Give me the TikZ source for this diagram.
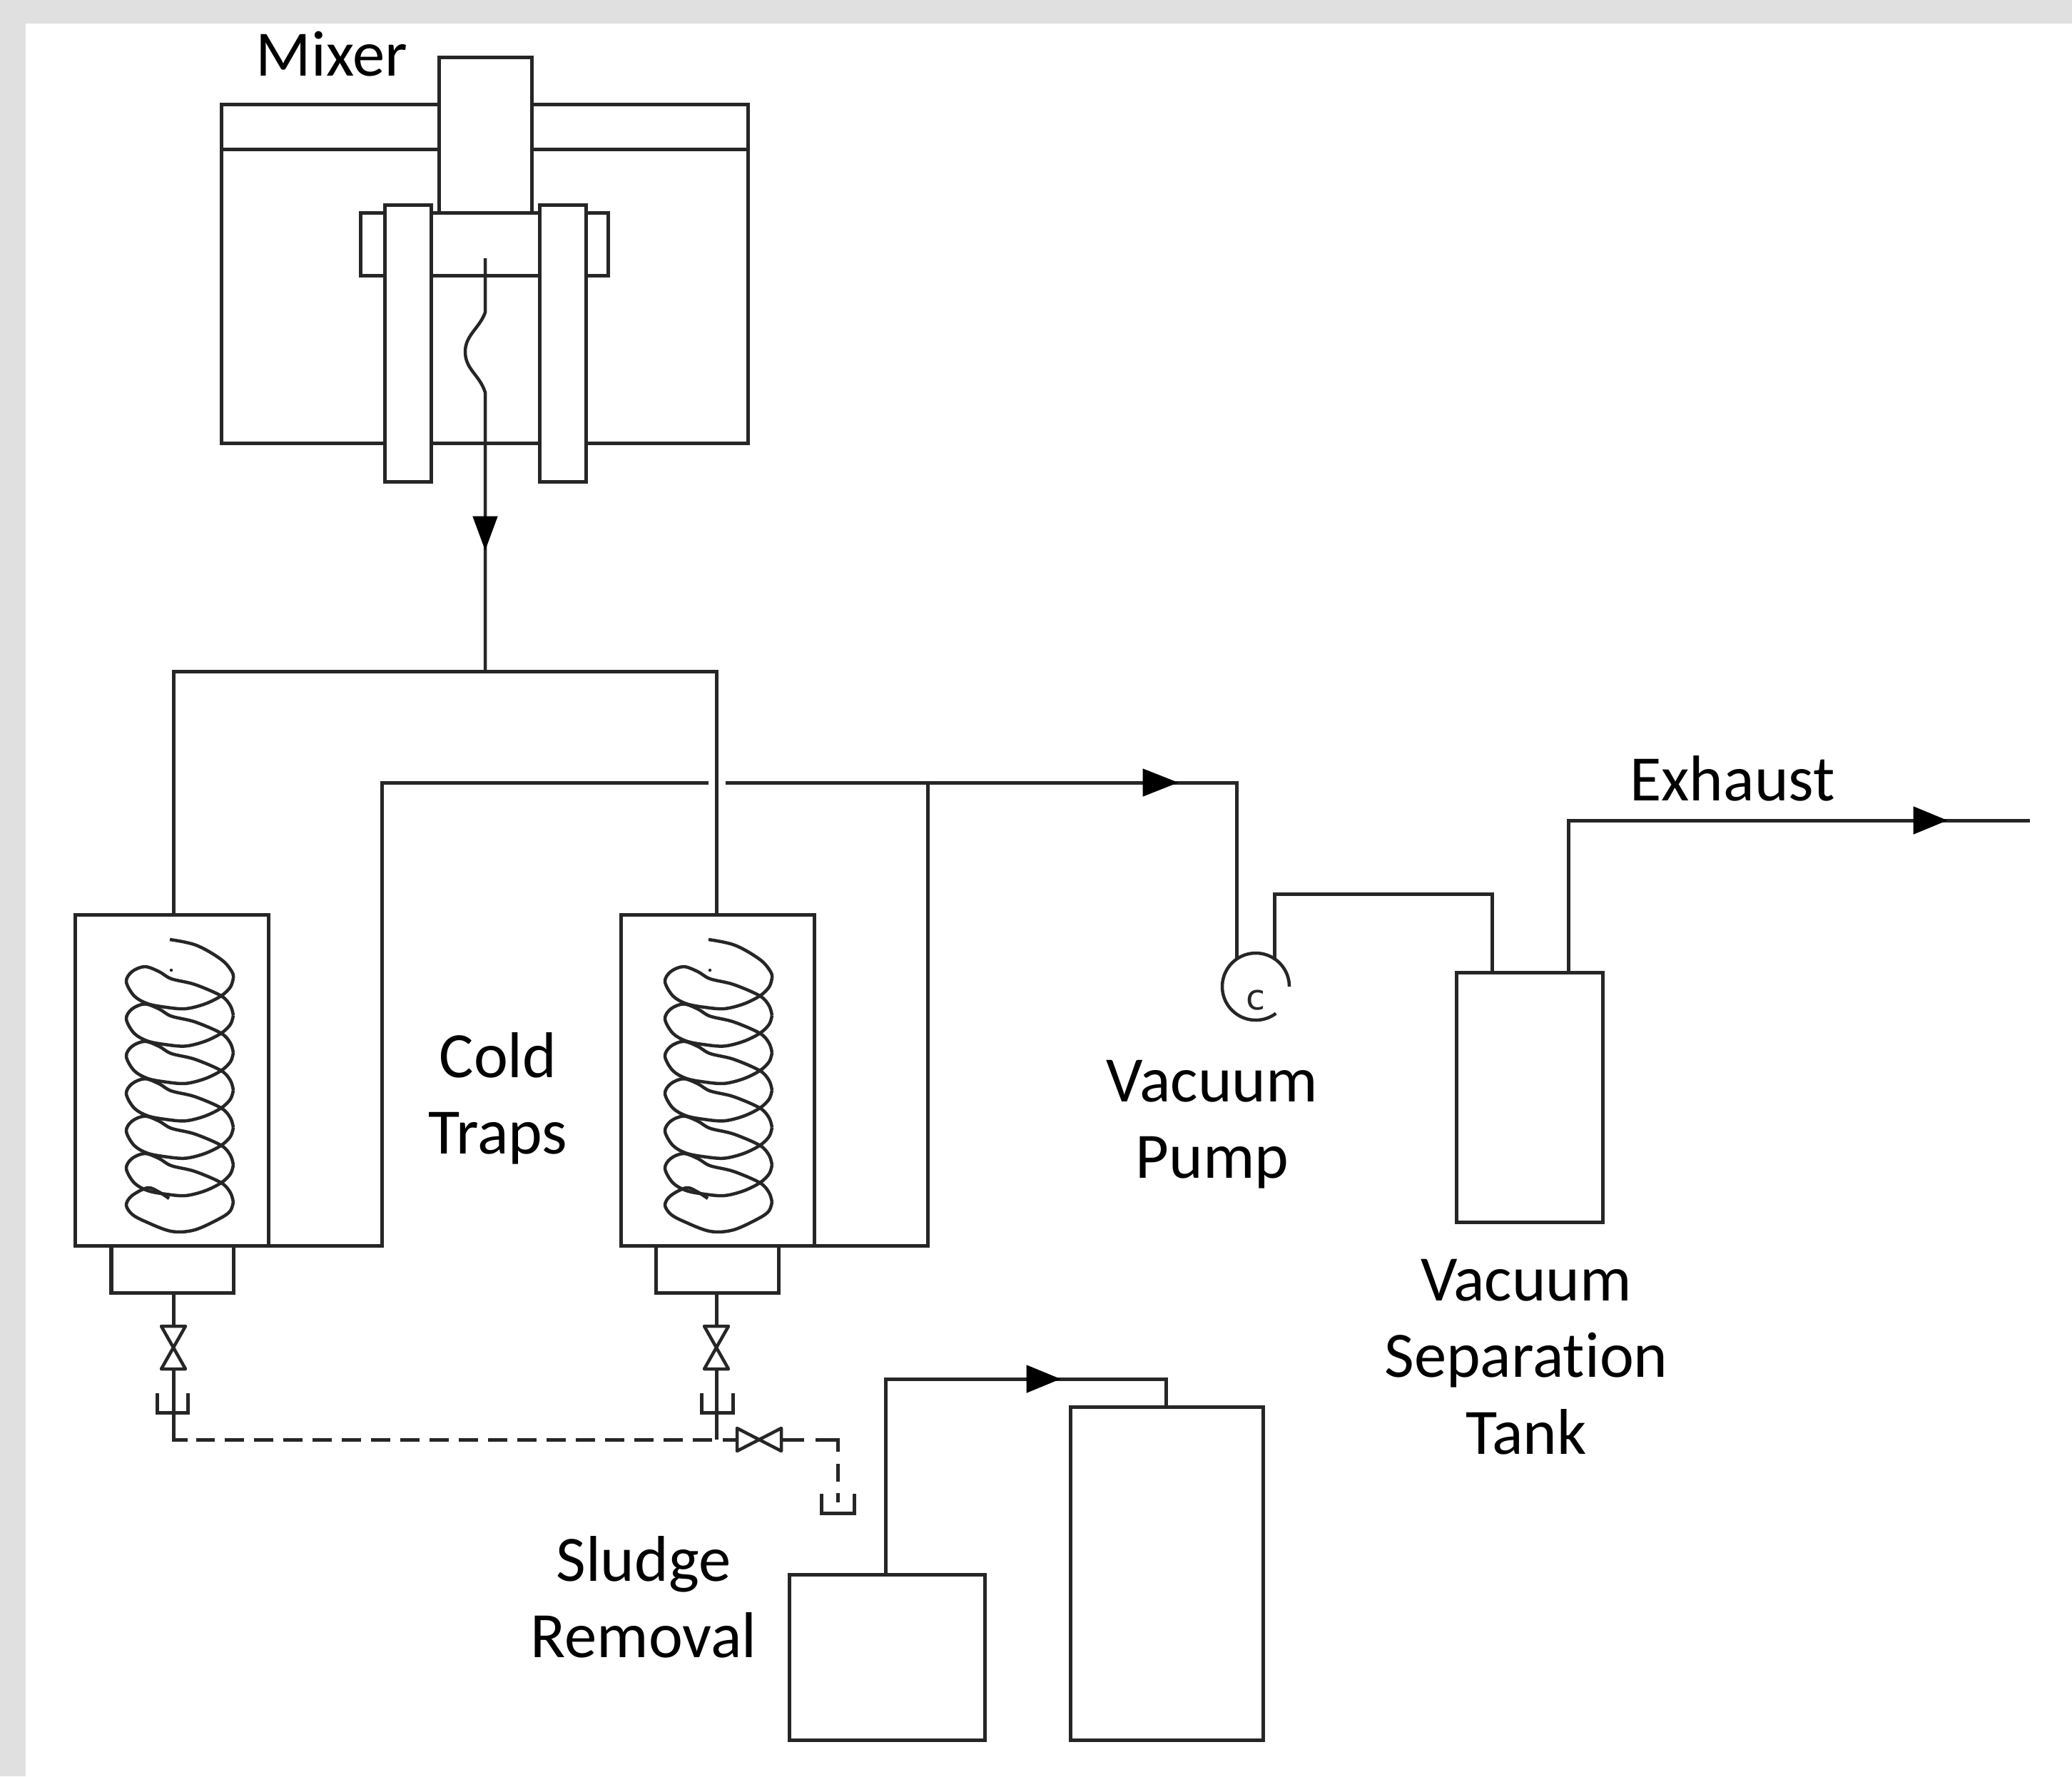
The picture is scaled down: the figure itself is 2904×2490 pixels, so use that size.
\documentclass[tikz,border=0pt]{standalone}
\usepackage{fontspec}
\setmainfont[Ligatures=NoCommon]{Carlito}
\newfontfamily\pumpfont{DejaVu Sans}
\usetikzlibrary{calc}
\definecolor{ink}{HTML}{262626}
\definecolor{frame}{HTML}{E0E0E0}
\tikzset{
  x=0.01cm,y=-0.01cm,
  pipe/.style={draw=ink,line width=0.05cm,line join=miter},
  thin pipe/.style={draw=ink,line width=0.045cm,line join=round},
  boxshape/.style={draw=ink,fill=white,line width=0.05cm,rectangle,inner sep=0pt,outer sep=0pt},
  label/.style={font=\fontsize{25.8}{30.56}\selectfont,text=black,inner sep=0pt,align=center},
  drain/.style={draw=ink,line width=0.05cm,dash pattern=on 0.27cm off 0.14cm},
  head/.style={fill=black,draw=black,line width=0.01cm}
}
% \mybox{name}{x0}{y0}{x1}{y1}
\newcommand{\mybox}[5]{%
  \pgfmathsetmacro{\bw}{(#4-#2)*0.01}\pgfmathsetmacro{\bh}{(#5-#3)*0.01}%
  \node[boxshape,minimum width=\bw cm,minimum height=\bh cm] (#1) at ({(#2+#4)/2},{(#3+#5)/2}) {};}
\newcommand{\coil}[1]{%
  \begin{scope}[xshift=#1*0.01cm]
    \draw[thin pipe] plot[smooth,tension=0.6] coordinates {(238,1317)(275,1325)(310,1345)(325,1362)(327,1371)};
    \fill[ink] (240,1360) circle (0.022cm);
    \foreach \k in {0,...,5}{
      \pgfmathsetmacro{\r}{1371+52.4*\k}
      \draw[thin pipe] plot[smooth,tension=0.55] coordinates {(327,\r)(323,\r+12.5)(310,\r+25)(287,\r+36.4)(260,\r+43)(233,\r+41)(207,\r+36)(188,\r+25)(177,\r+5)(185,\r-9)(203,\r-16)(223,\r-9)(240,\r+1)(273,\r+9)(310,\r+25)(323,\r+39)(327,\r+52.4)};
    }
    \draw[thin pipe] plot[smooth,tension=0.55] coordinates {(327,1685)(323,1697)(310,1707)(273,1724)(240,1726)(203,1712)(185,1702)(177,1689)(185,1676)(207,1665)(223,1671)(237,1680)};
  \end{scope}}
\newcommand{\vvalve}[2]{% centre x, centre y
  \draw[thin pipe] (#1-17,#2-30) -- (#1+17,#2-30) -- (#1-17,#2+30) -- (#1+17,#2+30) -- cycle;}
\newcommand{\hvalve}[2]{%
  \draw[thin pipe] (#1-31,#2-16) -- (#1-31,#2+16) -- (#1+31,#2-16) -- (#1+31,#2+16) -- cycle;}
\newcommand{\tray}[3]{% x0,x1,top; bottom +27
  \draw[pipe] (#1,#3) -- (#1,#3+27) -- (#2,#3+27) -- (#2,#3);}
\begin{document}
\begin{tikzpicture}
\useasboundingbox (0,0) rectangle (2904,2490);
\fill[frame] (0,0) rectangle (2904,2490);
\fill[white] (36,33) rectangle (2904,2490);
% mixer
\mybox{mixerbody}{311}{146}{1048}{621}
\draw[pipe] (311,209) -- (1048,209);
\mybox{hub}{505}{298}{852}{386}
\mybox{motor}{615}{80}{745}{298}
\coordinate (shafttop) at (680,362);
\coordinate (shaftout) at (680,941);
\draw[thin pipe] (shafttop) -- (680,438) .. controls (672,460) and (652,470) .. (652,493) .. controls (652,518) and (672,525) .. (680,550) -- (shaftout);
\mybox{clampL}{539}{287}{604}{675}
\mybox{clampR}{756}{287}{821}{675}
\fill[head] (663,724) -- (697,724) -- (680,770) -- cycle;
% traps
\mybox{trapA}{106}{1282}{376}{1746}
\mybox{baseA}{156}{1746}{327}{1812}
\mybox{trapB}{870}{1282}{1141}{1746}
\mybox{baseB}{919}{1746}{1091}{1812}
\coil{0}
\coil{755}
\coordinate (hdrL) at (243,941);
\coordinate (hdrR) at (1004,941);
\draw[pipe] (trapA.north -| hdrL) -- (hdrL) -- (hdrR) -- (trapB.north -| hdrR);
% collector
\coordinate (cA) at (535,1097);
\coordinate (gapL) at (993,1097);
\coordinate (gapR) at (1017,1097);
\coordinate (cB) at (1300,1097);
\coordinate (cPump) at (1733,1097);
\draw[pipe] (trapA.south east) -- (cA |- trapA.south east) -- (cA) -- (gapL);
\draw[pipe] (trapB.south east) -- (cB |- trapB.south east) -- (cB);
\draw[pipe] (gapR) -- (cPump) -- (1733,1343);
\fill[head] (1602,1078) -- (1602,1116) -- (1650,1097) -- cycle;
% pump
\draw[thin pipe] plot[domain=0:307,samples=70] ({1760+47*cos(\x)},{1383-47*sin(\x)});
\node[font=\pumpfont\fontsize{14}{16}\selectfont,text=ink,inner sep=0pt] (pumpc) at (1760,1402) {c};
% separation tank
\mybox{septank}{2041}{1363}{2246}{1713}
\coordinate (pumpout) at (1786,1345);
\coordinate (exh) at (2845,1150);
\draw[pipe] (pumpout) -- (1786,1253) -- (2091,1253) -- (2091,1363);
\draw[pipe] (2198,1363) -- (2198,1150) -- (exh);
\fill[head] (2682,1131) -- (2682,1169) -- (2728,1150) -- cycle;
% drains
\coordinate (drA) at (243,2018);
\coordinate (drB) at (1004,2018);
\coordinate (drAend) at (263,2018);
\coordinate (drDash) at (275,2018);
\draw[pipe] (243,1812) -- (drA) -- (drAend);
\draw[pipe] (1004,1812) -- (drB);
\fill[white] (226,1859) rectangle (260,1919);
\fill[white] (987,1859) rectangle (1021,1919);
\vvalve{243}{1889}
\vvalve{1004}{1889}
\tray{220}{263}{1953}
\tray{983}{1027}{1953}
\draw[drain] (998,2018) -- (drDash);
\draw[pipe] (1013,2018) -- (1033,2018);
\hvalve{1064}{2018}
\draw[pipe] (1095,2018) -- (1127,2018);
\draw[pipe] (1143,2018) -- (1174,2018) -- (1174,2035);
\draw[pipe] (1174,2052) -- (1174,2077);
\draw[pipe] (1174,2093) -- (1174,2106);
\tray{1151}{1197}{2094}
% sludge
\mybox{sludgeA}{1106}{2207}{1380}{2439}
\mybox{sludgeB}{1500}{1972}{1770}{2439}
\draw[pipe] (1241,2207) -- (1241,1933) -- (1634,1933) -- (1634,1972);
\fill[head] (1439,1914) -- (1439,1952) -- (1485,1933) -- cycle;
% labels
\node[label] (lmix) at (465,76) {Mixer};
\node[label] (lcold) at (698,1540) {Cold\\[0pt]Traps};
\node[label] (lvac) at (1699,1576) {Vacuum\\[0pt]Pump};
\node[label] (lsep) at (2139,1902) {Vacuum\\[0pt]Separation\\[0pt]Tank};
\node[label] (lslu) at (902,2239) {Sludge\\[0pt]Removal};
\node[label] (lexh) at (2428,1091) {Exhaust};
\end{tikzpicture}
\end{document}
